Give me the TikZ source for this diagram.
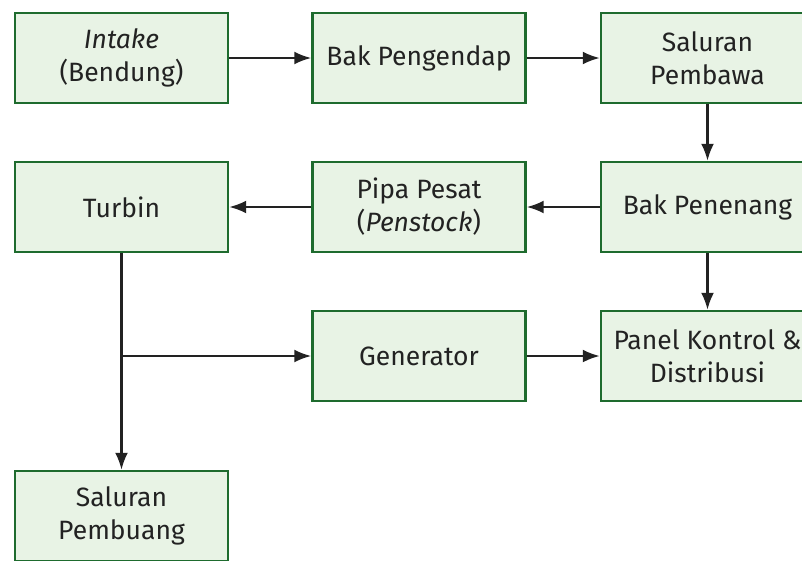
\documentclass[tikz,border=0pt]{standalone}
\usepackage{fontspec}
\setmainfont{Fira Sans}
\usetikzlibrary{arrows.meta}
\definecolor{boxfill}{HTML}{E8F3E5}
\definecolor{boxdraw}{HTML}{1E6B2E}
\definecolor{ink}{HTML}{222222}
\tikzset{
  x=1pt, y=-1pt,
  blk/.style={draw=boxdraw, fill=boxfill, line width=2.4pt, minimum width=213pt, minimum height=90pt,
    align=center, text=ink, font=\fontsize{26.5}{33}\selectfont, inner sep=0pt},
  conn/.style={draw=ink, line width=2.4pt, -{Latex[length=17pt,width=13pt]}},
  plain/.style={draw=ink, line width=2.4pt}
}
\begin{document}
\begin{tikzpicture}
\useasboundingbox (0,0) rectangle (802,560);
\clip (0,0) rectangle (802,560);
\node[blk] (intake) at (121.5,58) {\textit{Intake}\\(Bendung)};
\node[blk] (pengendap) at (419,58) {Bak Pengendap};
\node[blk] (pembawa) at (707.5,58) {Saluran\\Pembawa};
\node[blk] (turbin) at (121.5,207) {Turbin};
\node[blk] (pipa) at (419,207) {Pipa Pesat\\(\textit{Penstock})};
\node[blk] (penenang) at (707.5,207) {Bak Penenang};
\node[blk] (generator) at (419,356) {Generator};
\node[blk] (panel) at (707.5,356) {Panel Kontrol \&\\Distribusi};
\node[blk] (pembuang) at (121.5,516) {Saluran\\Pembuang};
\coordinate (split) at (turbin |- generator);
\draw[conn] (intake) -- (pengendap);
\draw[conn] (pengendap) -- (pembawa);
\draw[conn] (pembawa) -- (penenang);
\draw[conn] (penenang) -- (pipa);
\draw[conn] (pipa) -- (turbin);
\draw[conn] (penenang) -- (panel);
\draw[conn] (generator) -- (panel);
\draw[plain] (turbin) -- (split);
\draw[conn] (split) -- (generator);
\draw[conn] (split) -- (pembuang);
\end{tikzpicture}
\end{document}
